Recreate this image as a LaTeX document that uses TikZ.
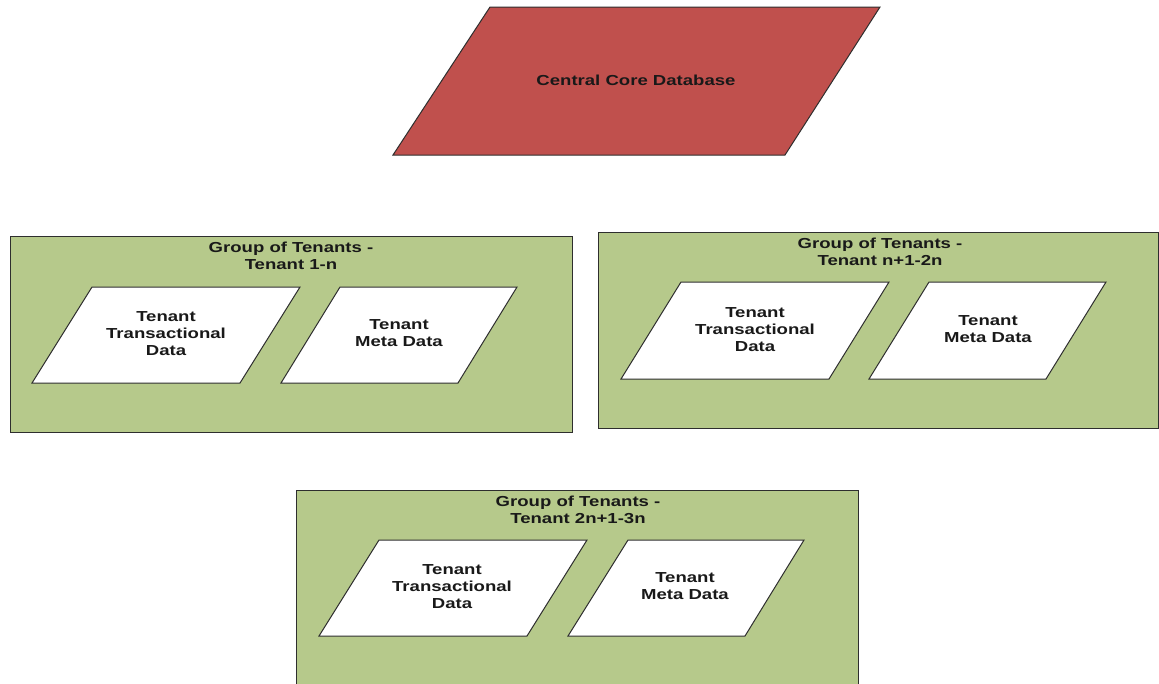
\documentclass[tikz,border=0pt]{standalone}
\usepackage{fontspec}
\newfontfamily\labelfont[FakeStretch=1.28]{Liberation Sans}
\definecolor{dbred}{HTML}{C0504D}
\definecolor{grpgreen}{HTML}{B6C98B}
\definecolor{edge}{HTML}{2E2E2E}
\begin{document}
\begin{tikzpicture}[x=1pt,y=-1pt,
  lbl/.style={font=\labelfont\bfseries\fontsize{14.5}{17}\selectfont,
    text=black!90, align=center, inner sep=0pt},
  group/.style={draw=edge, fill=grpgreen, line width=1pt},
  store/.style={draw=edge, fill=white, line width=1pt, line join=miter},
  core/.style={draw=edge, fill=dbred, line width=1pt}]
\clip (0,0) rectangle (1159,683);
\fill[white] (0,0) rectangle (1159,683);

% central database
\filldraw[core] (490,7) -- (880,7) -- (785,155) -- (393,155) -- cycle;
\node[lbl] (core) at (636,80) {Central Core Database};

% group 1
\filldraw[group] (10,236) rectangle (572,432);
\node[lbl] (g1) at (291,256) {Group of Tenants -\\Tenant 1-n};
\filldraw[store] (92,287) -- (300,287) -- (240,383) -- (32,383) -- cycle;
\node[lbl] (g1t) at (166,334) {Tenant\\Transactional\\Data};
\filldraw[store] (340,287) -- (517,287) -- (458,383) -- (281,383) -- cycle;
\node[lbl] (g1m) at (399,333) {Tenant\\Meta Data};

% group 2
\filldraw[group] (598,232) rectangle (1158,428);
\node[lbl] (g2) at (880,252) {Group of Tenants -\\Tenant n+1-2n};
\filldraw[store] (681,282) -- (889,282) -- (829,379) -- (621,379) -- cycle;
\node[lbl] (g2t) at (755,330) {Tenant\\Transactional\\Data};
\filldraw[store] (929,282) -- (1106,282) -- (1046,379) -- (869,379) -- cycle;
\node[lbl] (g2m) at (988,329) {Tenant\\Meta Data};

% group 3
\filldraw[group] (296,490) rectangle (858,700);
\node[lbl] (g3) at (578,510) {Group of Tenants -\\Tenant 2n+1-3n};
\filldraw[store] (379,540) -- (587,540) -- (527,636) -- (319,636) -- cycle;
\node[lbl] (g3t) at (452,587) {Tenant\\Transactional\\Data};
\filldraw[store] (628,540) -- (804,540) -- (745,636) -- (568,636) -- cycle;
\node[lbl] (g3m) at (685,586) {Tenant\\Meta Data};
\end{tikzpicture}
\end{document}
